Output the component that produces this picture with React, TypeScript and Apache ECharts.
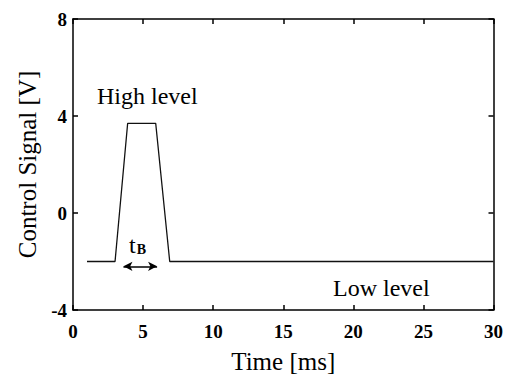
import React, { useEffect, useRef } from "react";
import * as echarts from "echarts";

const timeMs = [1, 3, 3.9, 5.9, 6.9, 30];
const signalV = [-2, -2, 3.7, 3.7, -2, -2];
const xTicks = { min: 0, max: 30, interval: 5 };
const yTicks = { min: -4, max: 8, interval: 4 };
const tbStart = 3.6;
const tbEnd = 6;
const tbLevel = -2.2;

const FONT = "'Liberation Serif', 'DejaVu Serif', serif";

export default function App() {
  const ref = useRef<HTMLDivElement>(null);
  useEffect(() => {
    if (!ref.current) return;
    const chart = echarts.init(ref.current, null, { renderer: "svg" });
    const axisLine = { onZero: false, lineStyle: { color: "#000", width: 1.5 } };
    const tick = { inside: true, length: 5, lineStyle: { color: "#000", width: 1.5 } };
    const label = { color: "#000", fontFamily: FONT, fontSize: 19, fontWeight: "bold" as const };
    chart.setOption({
      animation: false,
      backgroundColor: "#fff",
      grid: { left: 73, right: 11, top: 19, bottom: 66 },
      xAxis: [
        {
          type: "value",
          ...xTicks,
          axisLine,
          axisTick: tick,
          splitLine: { show: false },
          axisLabel: { ...label, margin: 12 },
          name: "Time [ms]",
          nameLocation: "middle",
          nameGap: 39,
          nameTextStyle: { color: "#000", fontFamily: FONT, fontSize: 25, padding: [0, 0, 0, 0] },
        },
        {
          type: "value",
          position: "top",
          ...xTicks,
          axisLine,
          axisTick: tick,
          splitLine: { show: false },
          axisLabel: { show: false },
        },
      ],
      yAxis: [
        {
          type: "value",
          ...yTicks,
          axisLine,
          axisTick: tick,
          splitLine: { show: false },
          axisLabel: { ...label, margin: 6 },
          name: "Control Signal [V]",
          nameLocation: "middle",
          nameGap: 31,
          nameTextStyle: { color: "#000", fontFamily: FONT, fontSize: 25 },
        },
        {
          type: "value",
          position: "right",
          ...yTicks,
          axisLine,
          axisTick: tick,
          splitLine: { show: false },
          axisLabel: { show: false },
        },
      ],
      series: [
        {
          type: "line",
          data: timeMs.map((t, i) => [t, signalV[i]]),
          showSymbol: false,
          lineStyle: { color: "#111", width: 1.3 },
          markLine: {
            silent: true,
            symbol: ["arrow", "arrow"],
            symbolSize: [7, 9],
            label: { show: false },
            lineStyle: { color: "#000", width: 1.5, type: "solid" },
            data: [[{ coord: [tbStart, tbLevel] }, { coord: [tbEnd, tbLevel] }]],
          },
        },
      ],
      graphic: [
        {
          type: "text",
          left: 97,
          top: 84,
          style: { text: "High level", fontFamily: FONT, fontSize: 24, fill: "#000" },
        },
        {
          type: "text",
          left: 333,
          top: 276,
          style: { text: "Low level", fontFamily: FONT, fontSize: 24, fill: "#000" },
        },
        {
          type: "text",
          left: 129,
          top: 233,
          style: {
            text: "{t|t}{b|B}",
            fill: "#000",
            rich: {
              t: { fontFamily: FONT, fontSize: 24, fill: "#000" },
              b: { fontFamily: FONT, fontSize: 14, fontWeight: "bold", fill: "#000", padding: [9, 0, 0, 1] },
            },
          },
        },
      ],
    });
    return () => chart.dispose();
  }, []);
  return <div ref={ref} style={{ width: 506, height: 379, position: "absolute", left: 0, top: 0 }} />;
}
